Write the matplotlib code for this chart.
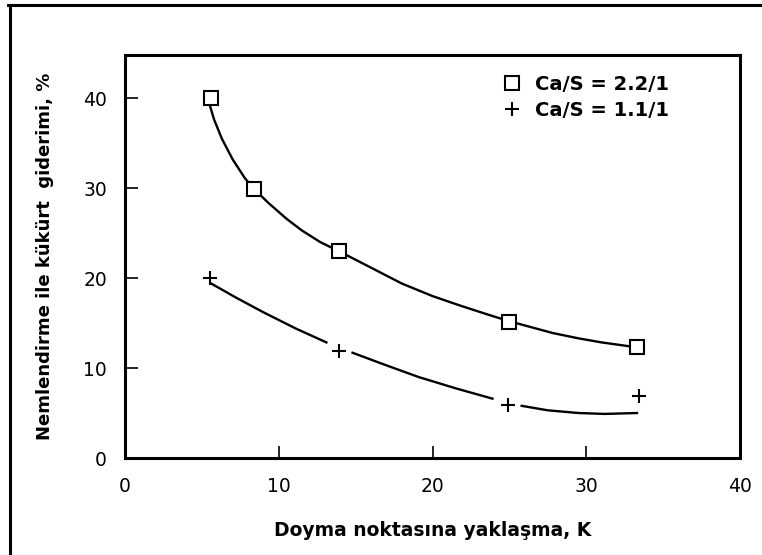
import matplotlib
matplotlib.use("Agg")
import matplotlib.pyplot as plt
from matplotlib.lines import Line2D
import numpy as np

plt.rcParams['font.family'] = ['DejaVu Sans']

# measured points
sq_x = [5.6, 8.4, 13.9, 25.0, 33.3]
sq_y = [40.0, 29.9, 23.0, 15.1, 12.3]
plus_x = [5.5, 13.9, 24.9, 33.4]
plus_y = [20.0, 11.9, 5.9, 6.9]

# smooth fitted curves (NaN = gap)
upper_x = [5.5, 5.8, 6.3, 7.0, 7.8, 8.4, 9.3, 10.5, 11.5, 12.7, 13.9, 15.5, 18.0, 20.0, 21.7, 23.5, 25.0, 27.8, 29.5, 31.0, 33.3]
upper_y = [39.3, 37.6, 35.5, 33.2, 31.1, 29.9, 28.4, 26.6, 25.3, 24.0, 23.0, 21.6, 19.4, 18.0, 17.0, 16.0, 15.2, 13.9, 13.3, 12.85, 12.3]
lower_x = [5.6, 7.2, 9.0, 11.1, 13.1, np.nan, 14.8, 17.0, 19.1, 21.5, 23.9, np.nan, 25.8, 27.5, 29.5, 31.2, 33.3]
lower_y = [19.4, 17.85, 16.2, 14.4, 12.85, np.nan, 11.7, 10.3, 9.0, 7.75, 6.6, np.nan, 5.8, 5.3, 5.0, 4.9, 5.0]

labels = ['Ca/S = 2.2/1', 'Ca/S = 1.1/1']
xticks = [0, 10, 20, 30, 40]
yticks = [0, 10, 20, 30, 40]

fig = plt.figure(figsize=(7.62, 5.55), dpi=100)
ax = fig.add_axes([125/762, 1-458/555, 615/762, 403/555])

ax.plot(upper_x, upper_y, color='black', lw=1.7, zorder=2)
ax.plot(lower_x, lower_y, color='black', lw=1.7, zorder=2)
hs = ax.plot(sq_x, sq_y, ls='none', marker='s', ms=10, mfc='white', mec='black', mew=1.5, zorder=3, label=labels[0])[0]
hp = ax.plot(plus_x, plus_y, ls='none', marker='+', ms=10, mec='black', mew=1.5, zorder=3, label=labels[1])[0]

ax.set_xlim(0, 40)
ax.set_ylim(0, 44.8)
ax.set_xticks(xticks)
ax.set_yticks(yticks)
ax.tick_params(direction='in', length=9, width=1.2, labelsize=13.5)
ax.tick_params(axis='x', pad=14)
ax.tick_params(axis='y', pad=13)
for s in ax.spines.values():
    s.set_linewidth(2.2)

ax.set_xlabel('Doyma noktasına yaklaşma, K', fontsize=13.5, fontweight='bold', labelpad=18)
ax.set_ylabel('Nemlendirme ile kükürt  giderimi, %', fontsize=13, fontweight='bold', labelpad=21)

leg = ax.legend(handles=[hs, hp], loc='upper left', bbox_to_anchor=(0.585, 0.995), frameon=False,
                prop={'weight': 'bold', 'size': 14}, handletextpad=0.7, labelspacing=0.4,
                handlelength=1.0)

# outer frame (top and left edges visible)
fig.add_artist(Line2D([8/762, 1], [1-5/555, 1-5/555], color='black', lw=2.2, transform=fig.transFigure))
fig.add_artist(Line2D([10/762, 10/762], [0, 1-5/555], color='black', lw=2.2, transform=fig.transFigure))

fig.savefig('out.png', dpi=100)
